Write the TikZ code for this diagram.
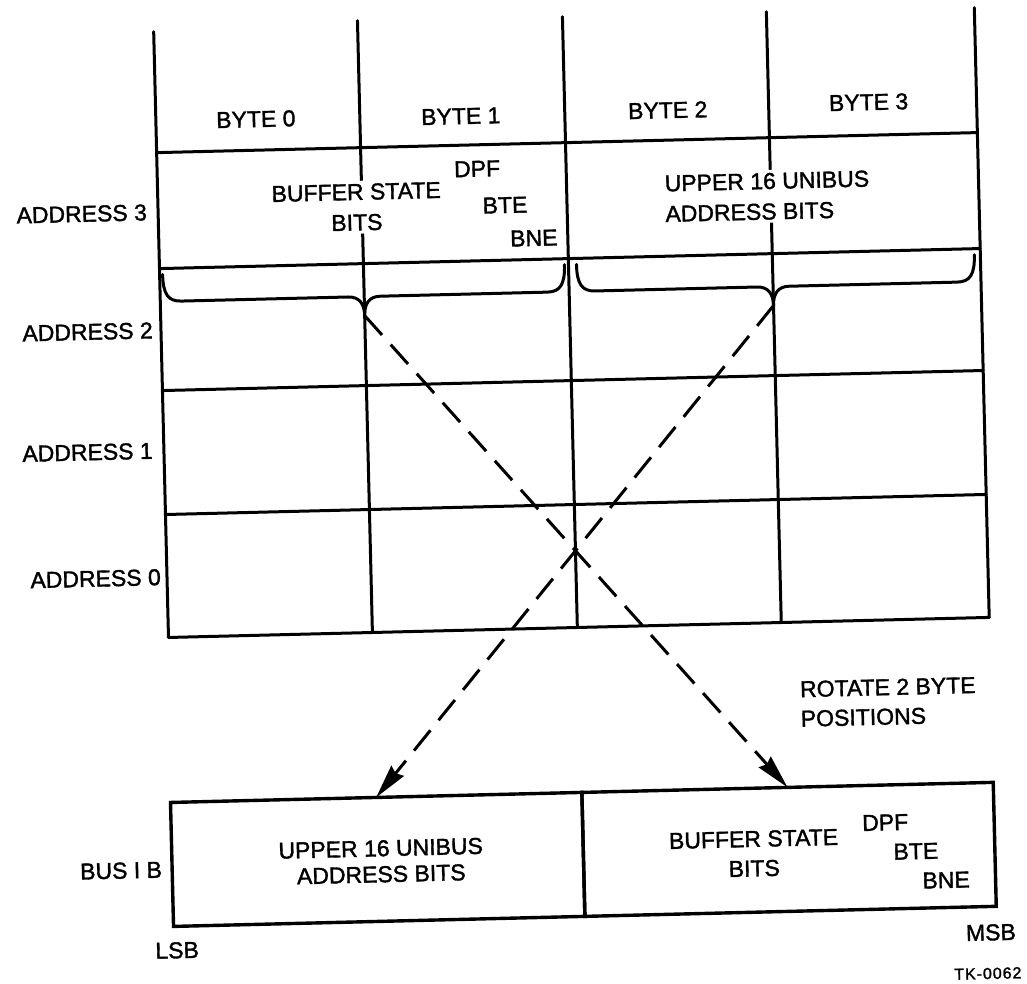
\documentclass[tikz,border=0pt]{standalone}
\usepackage{fontspec}
\setmainfont{Liberation Sans}
\newfontfamily\diagfont{Liberation Sans}[FakeBold=1.5]
\usetikzlibrary{arrows.meta}
\begin{document}
\begin{tikzpicture}[x=1pt,y=-1pt,
  gridline/.style={line width=3pt, line cap=round},
  bracepath/.style={line width=3pt, line cap=round},
  lbl/.style={inner sep=0pt, font=\diagfont\fontsize{23}{30.5}\selectfont},
  lblbox/.style={lbl, fill=white, inner sep=3pt},
  regbox/.style={draw, line width=3.4pt, outer sep=0pt, inner sep=0pt, minimum width=411.5pt, minimum height=124pt, anchor=north west},
  moveline/.style={line width=3pt, dash pattern=on 26pt off 13pt, -{Stealth[length=34pt,width=16pt,inset=3pt]}}]
\useasboundingbox (0,0) rectangle (1027,983);
\fill[white] (0,0) rectangle (1027,983);
\begin{scope}[rotate around={1.4:(513.5,491.5)}, transform shape]
% grid
\draw[gridline] (165,23) -- (165,629);
\draw[gridline] (369,17) -- (369,629);
\draw[gridline] (574,18) -- (574,629);
\draw[gridline] (778,18) -- (778,629);
\draw[gridline] (986,19) -- (986,629);
\foreach \yy in {144,260,382,506,629} \draw[gridline] (165,\yy) -- (986,\yy);
% header
\node[lbl] (b0) at (265,113) {BYTE 0};
\node[lbl] (b1) at (470,115) {BYTE 1};
\node[lbl] (b2) at (677,114) {BYTE 2};
\node[lbl] (b3) at (878,111) {BYTE 3};
% addresses
\node[lbl, anchor=east] (a3) at (154,203.5) {ADDRESS 3};
\node[lbl, anchor=east] (a2) at (157,321.6) {ADDRESS 2};
\node[lbl, anchor=east] (a1) at (154,442) {ADDRESS 1};
\node[lbl, anchor=east] (a0) at (159,568.5) {ADDRESS 0};
% address 3 contents
\node[lblbox, align=center] (bsb) at (363.5,203.5) {BUFFER STATE\\BITS};
\node[lbl] (dpf) at (485,168) {DPF};
\node[lbl] (bte) at (512,205) {BTE};
\node[lbl] (bne) at (540,238.6) {BNE};
\node[lblbox, align=left, anchor=west] (ub) at (669,202.6) {UPPER 16 UNIBUS\\ADDRESS BITS};
% braces
\draw[bracepath] (168,266) .. controls (168,286) and (173,293) .. (186,293) -- (353,293)
  .. controls (364,293) and (369,300) .. (369,312)
  .. controls (369,300) and (374,293) .. (385,293) -- (552,293)
  .. controls (565,293) and (570,286) .. (570,266);
\draw[bracepath] (582,266) .. controls (582,286) and (587,293) .. (600,293) -- (762,293)
  .. controls (773,293) and (778,300) .. (778,312)
  .. controls (778,300) and (783,293) .. (794,293) -- (962,293)
  .. controls (975,293) and (980,286) .. (980,266);
\coordinate (tipL) at (369,312);
\coordinate (tipR) at (778,312);
% lower register
\node[regbox] (lowL) at (163,794) {};
\node[regbox] (lowR) at (574.5,794) {};
\draw[moveline] (tipR) -- (lowL.north);
\draw[moveline] (tipL) -- (lowR.north);
\node[lbl, align=center, font=\diagfont\fontsize{23}{26}\selectfont] (lu) at (372,858) {UPPER 16 UNIBUS\\ADDRESS BITS};
\node[lbl, align=center, font=\diagfont\fontsize{23}{29.5}\selectfont] (lb) at (745,859.5) {BUFFER STATE\\BITS};
\node[lbl] (ldpf) at (877,831.5) {DPF};
\node[lbl] (lbte) at (907,861) {BTE};
\node[lbl] (lbne) at (936.5,890.5) {BNE};
\node[lbl, anchor=east] (bus) at (153,861) {BUS I B};
\node[lbl] (lsb) at (166,942) {LSB};
\node[lbl] (msb) at (980,944) {MSB};
\node[lbl, align=left, anchor=west, font=\diagfont\fontsize{23}{29.5}\selectfont] (rot) at (795,711) {ROTATE 2 BYTE\\POSITIONS};
\node[lbl, font=\diagfont\fontsize{16}{16}\selectfont\addfontfeature{LetterSpace=6}] (tk) at (976,985) {TK-0062};
\end{scope}
\end{tikzpicture}
\end{document}
